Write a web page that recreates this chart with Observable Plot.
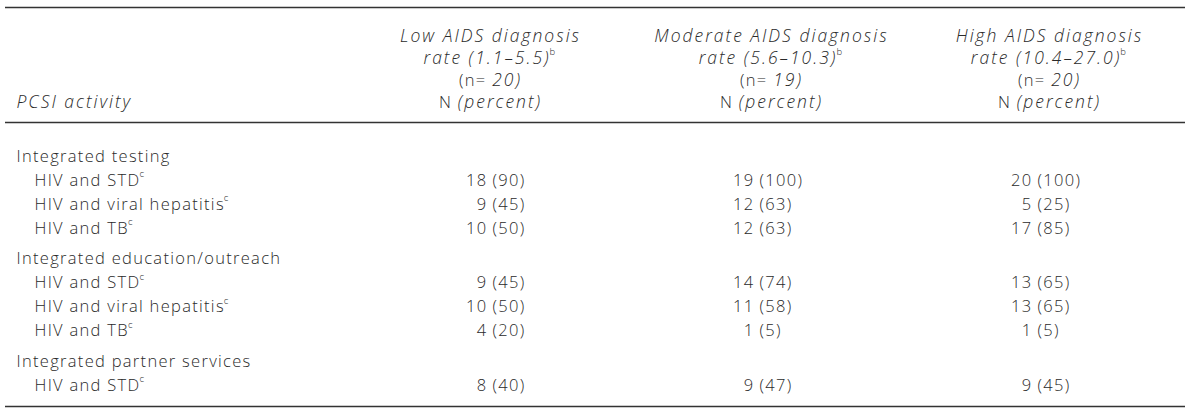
<!DOCTYPE html>
<html><head><meta charset="utf-8">
<script src="https://cdn.jsdelivr.net/npm/d3@7"></script>
<script src="https://cdn.jsdelivr.net/npm/@observablehq/plot@0.6"></script>
<style>
body{margin:0;background:#fff;}
svg g[font-style="italic"]{letter-spacing:2px;}
svg g[font-style="normal"]{letter-spacing:1.3px;}
</style>
</head><body><div id="chart"></div>
<script>
// ---- data ----
const columnNames = ["Low", "Moderate", "High"];
const headerTitles = ["Low AIDS diagnosis", "Moderate AIDS diagnosis", "High AIDS diagnosis"];
const headerRates = ["rate (1.1–5.5)", "rate (5.6–10.3)", "rate (10.4–27.0)"];
const sampleSizes = ["20", "19", "20"];
const stubHeader = "PCSI activity";
const headerNote = "b";
const rowNote = "c";
const groupNames = ["Integrated testing", "Integrated education/outreach", "Integrated partner services"];
const activityLabels = ["HIV and STD", "HIV and viral hepatitis", "HIV and TB",
                        "HIV and STD", "HIV and viral hepatitis", "HIV and TB",
                        "HIV and STD"];
const activityGroup = [0, 0, 0, 1, 1, 1, 2];
const lowN = [18, 9, 10, 9, 10, 4, 8];
const lowPct = [90, 45, 50, 45, 50, 20, 40];
const moderateN = [19, 12, 12, 14, 11, 1, 9];
const moderatePct = [100, 63, 63, 74, 58, 5, 47];
const highN = [20, 5, 17, 13, 13, 1, 9];
const highPct = [100, 25, 85, 65, 65, 5, 45];

// ---- layout ----
const W = 1200, H = 415;
const FONT = '"Open Sans"';
const FS = 16.5, FSI = 17.5, SUP = 9.5, SUPDY = -6.5;
const LS = 1.3, LSI = 2; // letter spacing px (upright / italic)
const WEIGHT = 300;
const INK = "#2a2a2a";
const colCenter = [490, 771, 1049];
const parenX = [492, 759, 1037];
const headerY = [36, 58, 80, 102];
const ruleYs = [7, 122, 406];
const ruleX1 = 5, ruleX2 = 1185;
const stubX = 16, indentX = 34;

const ctx = document.createElement("canvas").getContext("2d");
function measure(t, italic, size) {
  ctx.font = `${italic ? "italic " : ""}${WEIGHT} ${size}px ${FONT}`;
  try { ctx.letterSpacing = (italic ? LSI : LS) + "px"; } catch (e) {}
  return ctx.measureText(t).width;
}

const items = [];
function put(x, y, text, opts = {}) {
  items.push({x, y, text, anchor: opts.anchor || "start", italic: !!opts.italic,
    size: opts.size || (opts.italic ? FSI : FS)});
}

// header
headerTitles.forEach((t, i) => put(colCenter[i], headerY[0], t, {anchor: "middle", italic: true}));
headerRates.forEach((t, i) => {
  const w = measure(t, true, FSI), ws = measure(headerNote, false, SUP);
  const x0 = colCenter[i] - (w + ws) / 2;
  put(x0, headerY[1], t, {italic: true});
  put(x0 + w - 1, headerY[1] + SUPDY, headerNote, {size: SUP});
});
sampleSizes.forEach((n, i) => {
  const a = "(n= ", b = n + ")";
  const wa = measure(a, false, FS), wb = measure(b, true, FSI);
  const x0 = colCenter[i] - (wa + wb) / 2;
  put(x0, headerY[2], "(n=", {});
  put(x0 + wa, headerY[2], b, {italic: true});
});
columnNames.forEach((c, i) => {
  const a = "N ", b = "(percent)";
  const wa = measure(a, false, FS), wb = measure(b, true, FSI);
  const x0 = colCenter[i] - (wa + wb) / 2;
  put(x0, headerY[3], "N", {});
  put(x0 + wa, headerY[3], b, {italic: true});
});
put(stubX, headerY[3], stubHeader, {italic: true});

// body
const rowY = [];
const groupY = [];
{
  let y = 156;
  groupNames.forEach((g, gi) => {
    groupY.push(y); y += 24;
    activityGroup.forEach((ag, r) => { if (ag === gi) { rowY[r] = y; y += 24; } });
    y += 6.5;
  });
}
groupNames.forEach((g, gi) => put(stubX, groupY[gi], g));
activityLabels.forEach((t, r) => {
  const w = measure(t, false, FS);
  put(indentX, rowY[r], t);
  put(indentX + w - 1, rowY[r] + SUPDY, rowNote, {size: SUP});
});
const series = [[lowN, lowPct], [moderateN, moderatePct], [highN, highPct]];
series.forEach(([ns, ps], ci) => {
  ns.forEach((n, r) => {
    put(parenX[ci] - 5, rowY[r], String(n), {anchor: "end"});
    put(parenX[ci], rowY[r], `(${ps[r]})`, {});
  });
});

// group into marks
const groups = d3.groups(items, d => `${d.anchor}|${d.italic}|${d.size}`);
const textMarks = groups.map(([key, arr]) => {
  const [anchor, italic, size] = key.split("|");
  return Plot.text(arr, {x: "x", y: "y", text: "text", textAnchor: anchor,
    fontStyle: italic === "true" ? "italic" : "normal", fontSize: +size,
    fontWeight: WEIGHT, fill: INK});
});

const chart = Plot.plot({
  width: W, height: H, margin: 0,
  x: {domain: [0, W], range: [0, W], axis: null},
  y: {domain: [0, H], range: [0, H], axis: null},
  style: {fontFamily: FONT + ", sans-serif", background: "#fff", color: INK},
  marks: [
    Plot.ruleY(ruleYs, {y: d => d, x1: () => ruleX1, x2: () => ruleX2, stroke: "#333", strokeWidth: 1.6}),
    ...textMarks
  ]
});
document.getElementById("chart").append(chart);
</script>
</body></html>
